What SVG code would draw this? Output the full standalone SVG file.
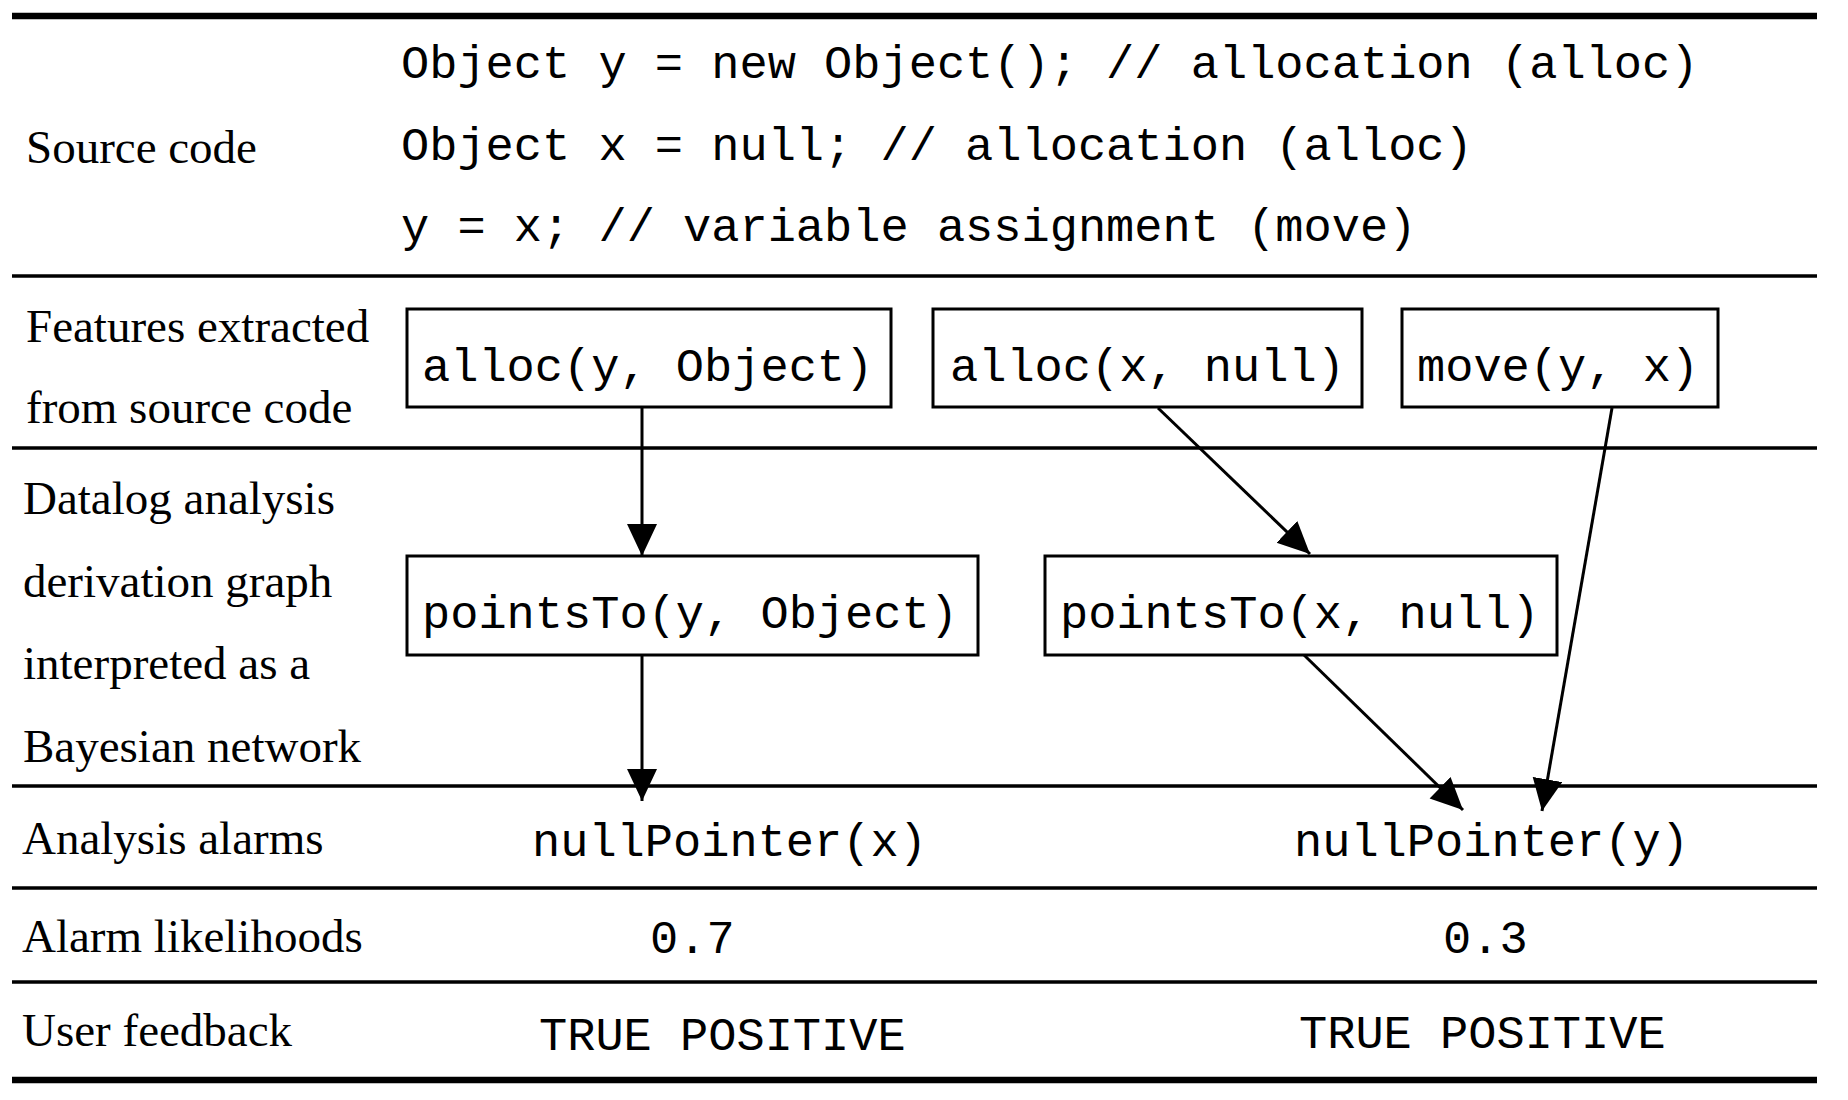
<svg xmlns="http://www.w3.org/2000/svg" width="1848" height="1100" viewBox="0 0 1848 1100">
<style>
.lbl{font-family:"Liberation Serif","Times New Roman",serif;font-size:47px;fill:#000}
.code{font-family:"Liberation Mono","Courier New",monospace;font-size:47px;fill:#000}
.box{fill:#fff;stroke:#000;stroke-width:3}
.rule{stroke:#000;stroke-width:3.3}
.thick{stroke:#000;stroke-width:6.5}
.edge{stroke:#000;stroke-width:3;fill:none;marker-end:url(#arrow)}
</style>
<defs>
<marker id="arrow" markerUnits="userSpaceOnUse" markerWidth="34" markerHeight="32" refX="32" refY="15" orient="auto">
<path d="M0,0 L32,15 L0,30 z" fill="#000"/>
</marker>
</defs>
<rect width="1848" height="1100" fill="#fff"/>
<g id="table-rules">
<line class="thick" x1="12" y1="16" x2="1817" y2="16"/>
<line class="rule" x1="12" y1="276" x2="1817" y2="276"/>
<line class="rule" x1="12" y1="448" x2="1817" y2="448"/>
<line class="rule" x1="12" y1="786" x2="1817" y2="786"/>
<line class="rule" x1="12" y1="888" x2="1817" y2="888"/>
<line class="rule" x1="12" y1="982" x2="1817" y2="982"/>
<line class="thick" x1="12" y1="1080" x2="1817" y2="1080"/>
</g>
<g id="row-labels">
<text class="lbl" x="26" y="163">Source code</text>
<text class="lbl" x="26" y="342">Features extracted</text>
<text class="lbl" x="26" y="423">from source code</text>
<text class="lbl" x="23" y="514">Datalog analysis</text>
<text class="lbl" x="23" y="597">derivation graph</text>
<text class="lbl" x="23" y="679">interpreted as a</text>
<text class="lbl" x="23" y="762">Bayesian network</text>
<text class="lbl" x="22" y="854">Analysis alarms</text>
<text class="lbl" x="22" y="952">Alarm likelihoods</text>
<text class="lbl" x="22" y="1046">User feedback</text>
</g>
<g id="source-code">
<text class="code" x="401" y="78">Object y = new Object(); // allocation (alloc)</text>
<text class="code" x="401" y="160">Object x = null; // allocation (alloc)</text>
<text class="code" x="401" y="241">y = x; // variable assignment (move)</text>
</g>
<g id="connectors">
<line class="edge" x1="642" y1="408" x2="642" y2="556"/>
<line class="edge" x1="642" y1="655" x2="642" y2="801"/>
<line class="edge" x1="1158" y1="408" x2="1310" y2="554"/>
<line class="edge" x1="1304" y1="655" x2="1463" y2="810"/>
<line class="edge" x1="1612" y1="408" x2="1542" y2="811"/>
</g>
<g id="node-alloc-y">
<rect class="box" x="407" y="309" width="484" height="98"/>
<text class="code" x="422" y="381">alloc(y, Object)</text>
</g>
<g id="node-alloc-x">
<rect class="box" x="933" y="309" width="429" height="98"/>
<text class="code" x="950" y="381">alloc(x, null)</text>
</g>
<g id="node-move">
<rect class="box" x="1402" y="309" width="316" height="98"/>
<text class="code" x="1417" y="381">move(y, x)</text>
</g>
<g id="node-pointsTo-y">
<rect class="box" x="407" y="556" width="571" height="99"/>
<text class="code" x="422" y="628">pointsTo(y, Object)</text>
</g>
<g id="node-pointsTo-x">
<rect class="box" x="1045" y="556" width="512" height="99"/>
<text class="code" x="1060" y="628">pointsTo(x, null)</text>
</g>
<g id="node-nullPointer-x">
<text class="code" x="532" y="856">nullPointer(x)</text>
</g>
<g id="node-nullPointer-y">
<text class="code" x="1294" y="856">nullPointer(y)</text>
</g>
<g id="likelihoods">
<text class="code" x="650" y="953">0.7</text>
<text class="code" x="1443" y="953">0.3</text>
</g>
<g id="feedback">
<text class="code" x="539" y="1050">TRUE POSITIVE</text>
<text class="code" x="1299" y="1048">TRUE POSITIVE</text>
</g>
</svg>
